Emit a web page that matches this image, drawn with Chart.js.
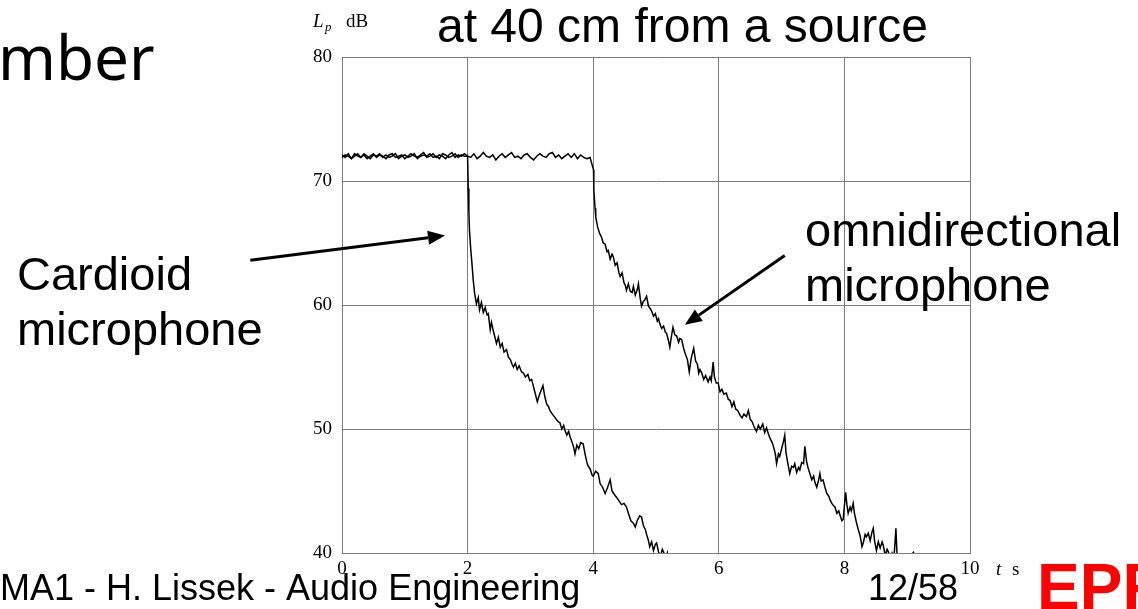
<!DOCTYPE html>
<html>
<head>
<meta charset="utf-8">
<script src="https://cdn.jsdelivr.net/npm/chart.js@4.4.0/dist/chart.umd.min.js"></script>
<style>
  html, body { margin: 0; padding: 0; background: #fff; }
  #wrap { width: 1138px; height: 609px; position: relative; }
</style>
</head>
<body>
<div id="wrap"><canvas id="chartDecay" width="1138" height="609"></canvas></div>
<script>
// Sound level L_p (dB) vs time t (s).
const X_TICKS = [0, 2, 4, 6, 8, 10];
const Y_TICKS = [40, 50, 60, 70, 80];

// steady part, sampled every 0.05 s
const FLAT_STEP = 0.05;
const cardioidFlat = [
  71.9, 72.1, 72.0, 71.8, 72.2, 72.0, 71.9, 72.2, 72.0, 71.8,
  72.1, 72.0, 72.2, 71.9, 72.1, 71.9, 72.0, 72.2, 71.8, 72.0,
  72.1, 71.9, 72.0, 72.2, 71.8, 72.0, 72.1, 72.0, 72.2, 71.9,
  72.0, 71.8, 72.2, 72.1, 71.9, 72.0, 72.2, 71.9, 72.1, 72.0,
];
const omniFlat = [
  72.1, 71.9, 72.2, 71.8, 72.0, 72.2, 71.9, 72.1, 71.8, 72.0,
  72.2, 71.9, 72.1, 72.0, 71.8, 72.1, 72.2, 71.9, 72.0, 72.1,
  71.8, 72.0, 72.2, 72.0, 71.9, 72.1, 72.3, 71.9, 72.0, 72.2,
  71.9, 72.1, 72.0, 71.8, 72.1, 72.3, 71.9, 72.1, 72.0, 72.2,
  72.0, 71.9, 72.2, 71.8, 72.0, 72.3, 72.0, 71.9, 72.1, 71.7,
  72.0, 72.2, 71.9, 72.1, 72.3, 71.9, 72.0, 71.8, 72.1, 72.2,
  71.9, 71.7, 72.0, 72.2, 72.0, 71.9, 72.2, 72.3, 71.9, 72.1,
  71.8, 72.0, 72.2, 71.9, 72.2, 71.8, 72.1, 71.9, 71.8, 71.9,
];

// decays
const cardioidDecayTime = [
  2.00, 2.01, 2.02, 2.03, 2.05, 2.07, 2.09, 2.11, 2.14, 2.17,
  2.19, 2.22, 2.25, 2.28, 2.31, 2.33, 2.36, 2.38, 2.41, 2.44,
  2.46, 2.49, 2.52, 2.55, 2.58, 2.62, 2.65, 2.68, 2.71, 2.73,
  2.76, 2.79, 2.82, 2.86, 2.89, 2.92, 2.96, 2.99, 3.02, 3.05,
  3.08, 3.11, 3.14, 3.17, 3.20, 3.23, 3.26, 3.29, 3.31, 3.35,
  3.38, 3.41, 3.44, 3.47, 3.50, 3.53, 3.55, 3.58, 3.61, 3.63,
  3.66, 3.69, 3.71, 3.74, 3.77, 3.80, 3.84, 3.87, 3.90, 3.92,
  3.95, 3.98, 4.00, 4.04, 4.08, 4.11, 4.15, 4.19, 4.23, 4.27,
  4.30, 4.34, 4.37, 4.41, 4.45, 4.49, 4.53, 4.56, 4.60, 4.64,
  4.67, 4.70, 4.74, 4.77, 4.80, 4.83, 4.85, 4.88, 4.90, 4.93,
  4.96, 4.99, 5.01, 5.04, 5.07, 5.10, 5.12, 5.15, 5.18, 5.20, 5.25,
];
const cardioidDecayLevel = [
  72.0, 69.4, 67.5, 66.0, 64.5, 63.3, 62.0, 61.0, 60.1, 60.6,
  59.6, 60.2, 59.4, 59.8, 59.2, 59.3, 58.0, 58.6, 57.9, 57.3,
  56.9, 57.4, 56.6, 56.9, 56.2, 56.4, 55.8, 55.6, 55.2, 55.0,
  55.3, 54.8, 55.1, 54.6, 54.5, 54.2, 54.4, 53.9, 54.0, 53.4,
  52.8, 52.2, 52.7, 53.1, 53.5, 52.6, 52.0, 51.8, 51.5, 51.2,
  51.0, 50.8, 50.6, 50.5, 50.0, 50.3, 49.9, 49.5, 49.8, 49.4,
  49.0, 48.5, 48.0, 48.7, 48.4, 48.9, 48.8, 48.0, 47.3, 47.0,
  46.8, 46.3, 46.2, 46.6, 46.4, 45.6, 45.3, 44.8, 45.3, 45.9,
  45.0, 44.7, 44.5, 44.2, 43.9, 44.0, 43.7, 43.2, 42.6, 42.4,
  42.1, 42.6, 43.0, 42.9, 42.2, 41.9, 41.5, 41.0, 40.5, 40.9,
  40.2, 40.7, 40.8, 40.1, 39.7, 40.3, 40.1, 39.5, 40.0, 39.2, 38.8,
];

const omniDecayTime = [
  4.005, 4.01, 4.03, 4.04, 4.07, 4.10, 4.13, 4.16, 4.19, 4.22,
  4.24, 4.27, 4.30, 4.32, 4.35, 4.38, 4.41, 4.43, 4.46, 4.49,
  4.51, 4.53, 4.56, 4.59, 4.62, 4.64, 4.67, 4.70, 4.72, 4.75,
  4.77, 4.80, 4.82, 4.85, 4.88, 4.91, 4.94, 4.96, 4.99, 5.02,
  5.04, 5.06, 5.09, 5.12, 5.15, 5.17, 5.20, 5.22, 5.25, 5.27,
  5.30, 5.33, 5.36, 5.38, 5.41, 5.44, 5.47, 5.50, 5.53, 5.56,
  5.58, 5.60, 5.63, 5.66, 5.68, 5.70, 5.73, 5.76, 5.79, 5.83,
  5.86, 5.88, 5.91, 5.93, 5.96, 5.99, 6.02, 6.05, 6.08, 6.12,
  6.15, 6.18, 6.21, 6.24, 6.27, 6.30, 6.34, 6.37, 6.40, 6.44,
  6.47, 6.50, 6.53, 6.56, 6.60, 6.63, 6.66, 6.70, 6.73, 6.76,
  6.79, 6.82, 6.85, 6.87, 6.90, 6.92, 6.95, 6.97, 7.00, 7.03,
  7.05, 7.07, 7.10, 7.13, 7.16, 7.19, 7.21, 7.24, 7.27, 7.29,
  7.32, 7.35, 7.37, 7.40, 7.42, 7.45, 7.48, 7.51, 7.53, 7.56,
  7.59, 7.61, 7.63, 7.66, 7.69, 7.72, 7.75, 7.77, 7.80, 7.83,
  7.85, 7.88, 7.91, 7.94, 7.96, 7.98, 8.00, 8.02, 8.04, 8.06,
  8.09, 8.11, 8.14, 8.16, 8.19, 8.22, 8.25, 8.28, 8.30, 8.33,
  8.35, 8.38, 8.41, 8.44, 8.46, 8.48, 8.51, 8.54, 8.57, 8.60,
  8.62, 8.65, 8.68, 8.70, 8.73, 8.76, 8.79, 8.82, 8.84, 8.88,
  8.93, 8.98, 9.04, 9.10, 9.13, 9.18,
];
const omniDecayLevel = [
  70.9, 69.3, 67.8, 67.1, 66.3, 65.8, 65.5, 65.0, 64.9, 64.3,
  64.4, 63.7, 64.1, 63.9, 63.2, 63.4, 62.6, 62.3, 62.6, 61.8,
  61.6, 61.2, 61.7, 61.1, 61.0, 61.5, 60.8, 61.2, 61.7, 60.5,
  59.9, 60.3, 60.4, 60.7, 59.9, 59.7, 59.4, 59.1, 59.3, 58.7,
  58.9, 58.5, 58.1, 58.3, 57.8, 57.7, 57.1, 56.6, 57.6, 58.2,
  57.6, 57.5, 57.0, 57.3, 57.2, 56.5, 56.0, 55.6, 54.6, 55.7,
  56.1, 56.5, 55.5, 55.2, 54.5, 54.8, 54.5, 54.0, 54.3, 53.8,
  54.2, 53.9, 55.4, 54.2, 53.7, 53.7, 53.0, 53.2, 52.8, 52.9,
  52.4, 52.3, 51.8, 52.2, 51.6, 51.5, 51.1, 50.9, 51.2, 51.0,
  51.5, 50.8, 50.6, 50.2, 49.8, 50.3, 50.0, 50.4, 49.7, 50.1,
  49.6, 49.2, 48.9, 48.6, 48.0, 47.2, 48.0, 47.8, 48.4, 49.0,
  49.5, 48.1, 47.2, 46.4, 47.0, 46.9, 47.2, 46.5, 46.9, 46.7,
  47.3, 47.2, 48.6, 47.3, 46.9, 46.4, 45.9, 46.2, 45.7, 45.3,
  45.9, 46.4, 45.8, 45.9, 45.3, 44.8, 44.6, 44.3, 44.0, 43.8,
  43.7, 43.2, 43.4, 42.9, 42.6, 42.7, 43.8, 44.9, 43.9, 43.2,
  43.7, 43.4, 44.0, 43.2, 42.5, 41.9, 41.4, 40.5, 40.8, 41.5,
  41.3, 41.6, 41.0, 41.7, 42.0, 41.0, 40.2, 40.9, 40.4, 40.9,
  40.6, 39.8, 40.3, 40.1, 39.5, 40.0, 39.6, 42.0, 39.6, 39.4,
  39.8, 39.3, 39.7, 40.05, 39.5, 39.2,
];

const GRID_COLOR = '#7c7c7c';
const SERIF = '"Liberation Serif", "DejaVu Serif", serif';
const SANS = '"Liberation Sans", Arial, sans-serif';

function toPoints(flat, decayTime, decayLevel) {
  const pts = flat.map((v, i) => ({ x: +(i * FLAT_STEP).toFixed(3), y: v }));
  decayTime.forEach((t, i) => pts.push({ x: t, y: decayLevel[i] }));
  return pts;
}

function arrow(ctx, x1, y1, x2, y2) {
  const ang = Math.atan2(y2 - y1, x2 - x1);
  const len = 17;
  const half = 7;
  const bx = x2 - len * Math.cos(ang);
  const by = y2 - len * Math.sin(ang);
  ctx.beginPath();
  ctx.moveTo(x1, y1);
  ctx.lineTo(bx, by);
  ctx.lineWidth = 3;
  ctx.strokeStyle = '#000';
  ctx.stroke();
  ctx.beginPath();
  ctx.moveTo(x2, y2);
  ctx.lineTo(bx + half * Math.sin(ang), by - half * Math.cos(ang));
  ctx.lineTo(bx - half * Math.sin(ang), by + half * Math.cos(ang));
  ctx.closePath();
  ctx.fillStyle = '#000';
  ctx.fill();
}

const slideText = {
  id: 'slideText',
  afterDraw(chart) {
    const { ctx, scales } = chart;
    const px = (t) => scales.x.getPixelForValue(t);
    const py = (v) => scales.y.getPixelForValue(v);
    ctx.save();
    ctx.fillStyle = '#000';
    ctx.textBaseline = 'alphabetic';
    ctx.textAlign = 'left';

    // slide title fragments
    ctx.font = '62px "Noto Sans", "Open Sans", sans-serif';
    ctx.fillText('mber', -2, 80);
    ctx.font = '48px ' + SANS;
    ctx.fillText('at 40 cm from a source', 437, 42);

    // annotations
    ctx.font = '47px ' + SANS;
    ctx.fillText('Cardioid', 17, 290);
    ctx.fillText('microphone', 17, 345);
    ctx.fillText('omnidirectional', 805, 246);
    ctx.fillText('microphone', 805, 301);
    arrow(ctx, px(-1.46), py(63.6), px(1.64), py(65.6));
    arrow(ctx, px(7.05), py(64.0), px(5.46), py(58.4));

    // axis titles
    ctx.font = 'italic 19px ' + SERIF;
    ctx.fillText('L', 313, 27);
    ctx.font = 'italic 13px ' + SERIF;
    ctx.fillText('p', 325, 31);
    ctx.font = '19px ' + SERIF;
    ctx.fillText('dB', 346, 27);
    ctx.font = 'italic 19px ' + SERIF;
    ctx.fillText('t', 996, 575);
    ctx.font = '19px ' + SERIF;
    ctx.fillText('s', 1012, 575);

    // footer
    ctx.font = '36px ' + SANS;
    ctx.fillText('MA1 - H. Lissek - Audio Engineering', 0, 600);
    ctx.fillText('12/58', 868, 600);
    ctx.font = 'bold 64px ' + SANS;
    ctx.fillStyle = '#ff0000';
    ctx.fillText('EPFL', 1037, 609);
    ctx.restore();
  },
};

new Chart(document.getElementById('chartDecay').getContext('2d'), {
  type: 'line',
  data: {
    datasets: [
      {
        label: 'Cardioid microphone',
        data: toPoints(cardioidFlat, cardioidDecayTime, cardioidDecayLevel),
        borderColor: '#000',
        borderWidth: 1.5,
        pointRadius: 0,
        tension: 0,
      },
      {
        label: 'omnidirectional microphone',
        data: toPoints(omniFlat, omniDecayTime, omniDecayLevel),
        borderColor: '#000',
        borderWidth: 1.5,
        pointRadius: 0,
        tension: 0,
      },
    ],
  },
  options: {
    responsive: false,
    animation: false,
    devicePixelRatio: 1,
    layout: { padding: { left: 0, top: 57, right: 168, bottom: 0 } },
    scales: {
      x: {
        type: 'linear',
        min: 0,
        max: 10,
        afterFit: (scale) => { scale.height = 56; },
        afterBuildTicks: (scale) => { scale.ticks = X_TICKS.map((value) => ({ value })); },
        grid: { color: GRID_COLOR, drawTicks: false, lineWidth: 1 },
        border: { color: GRID_COLOR, width: 1 },
        ticks: { color: '#000', padding: 5, font: { family: SERIF, size: 19 }, maxRotation: 0 },
      },
      y: {
        type: 'linear',
        min: 40,
        max: 80,
        afterFit: (scale) => { scale.width = 342; },
        afterBuildTicks: (scale) => { scale.ticks = Y_TICKS.map((value) => ({ value })); },
        grid: { color: GRID_COLOR, drawTicks: false, lineWidth: 1 },
        border: { color: GRID_COLOR, width: 1 },
        ticks: { color: '#000', padding: 10, font: { family: SERIF, size: 19 } },
      },
    },
    plugins: {
      legend: { display: false },
      tooltip: { enabled: false },
    },
  },
  plugins: [slideText],
});
</script>
</body>
</html>
